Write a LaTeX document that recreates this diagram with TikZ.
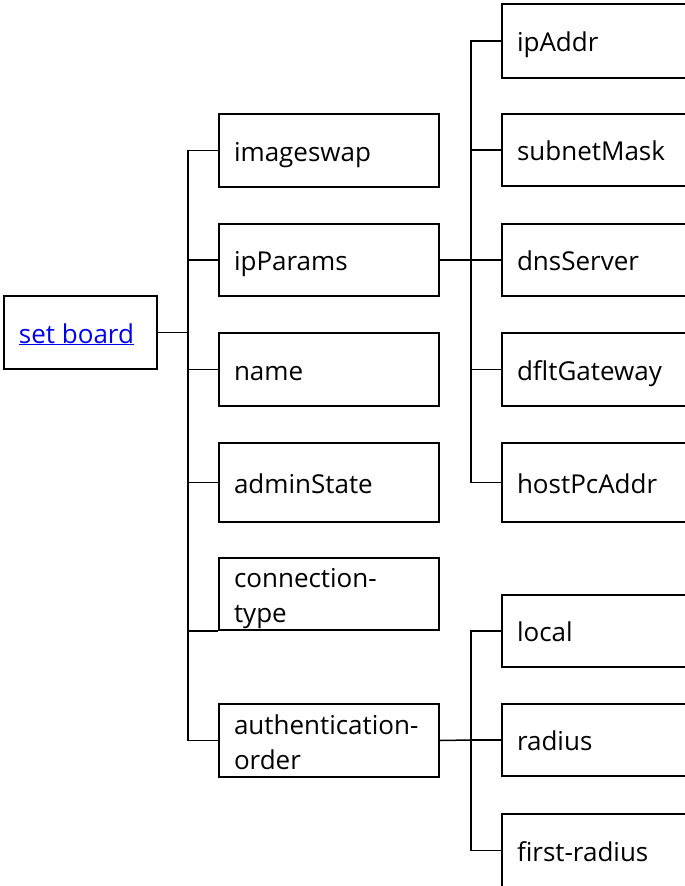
\documentclass[tikz,border=0pt]{standalone}
\usepackage{fontspec}
\setmainfont{Open Sans}
\definecolor{linkblue}{RGB}{0,0,238}
\begin{document}
\begin{tikzpicture}[x=1pt,y=-1pt,
  box/.style={draw, line width=1.5pt, inner xsep=15pt, inner ysep=0pt,
    align=flush left, text height=21pt, text depth=0pt,
    font=\fontsize{26}{35}\selectfont},
  twoline/.style={text depth=34pt},
  leftcol/.style={box, text width=190pt},
  rightcol/.style={box, text width=168pt},
  wire/.style={draw, line width=1.5pt}]
\useasboundingbox (0,0) rectangle (685,886);

% root
\node[box, text width=123pt, minimum height=73pt] (sb) at (80.5,332.5)
  {\textcolor{linkblue}{\underline{set board}}};

% first level
\node[leftcol, minimum height=73pt] (imgs) at (329,150.5) {imageswap};
\node[leftcol, minimum height=72pt] (ipp)  at (329,260)   {ipParams};
\node[leftcol, minimum height=73pt] (nm)   at (329,369.5) {name};
\node[leftcol, minimum height=79pt] (adm)  at (329,482.5) {adminState};
\node[leftcol, twoline, minimum height=72pt] (ct) at (329,594)
  {connection-\\type};
\node[leftcol, twoline, minimum height=73pt] (ao) at (329,740.5)
  {authentication-\\order};

% children of ipParams
\node[rightcol, minimum height=74pt] (ipa)  at (601,41)    {ipAddr};
\node[rightcol, minimum height=72pt] (snm)  at (601,150)   {subnetMask};
\node[rightcol, minimum height=72pt] (dns)  at (601,260)   {dnsServer};
\node[rightcol, minimum height=73pt] (gw)   at (601,369.5) {dfltGateway};
\node[rightcol, minimum height=79pt] (hpc)  at (601,482.5) {hostPcAddr};

% children of authentication-order
\node[rightcol, minimum height=72pt] (loc)  at (601,631)   {local};
\node[rightcol, minimum height=72pt] (rad)  at (601,740)   {radius};
\node[rightcol, minimum height=73pt] (frad) at (601,850.5) {first-radius};

% junction points of the three trunks
\coordinate (j1) at (188,332.5);
\coordinate (j2) at (471,260);
\coordinate (j3) at (471,740);

\draw[wire] (sb.east) -- (j1);
\foreach \n in {imgs,ipp,nm,adm,ao} \draw[wire] (j1) |- (\n.west);
\draw[wire] (j1) |- (ct.south west);

\draw[wire] (ipp.east) -- (j2);
\foreach \n in {ipa,snm,dns,gw,hpc} \draw[wire] (j2) |- (\n.west);

\draw[wire] (ao.east) -- (j3);
\foreach \n in {loc,rad,frad} \draw[wire] (j3) |- (\n.west);
\end{tikzpicture}
\end{document}
